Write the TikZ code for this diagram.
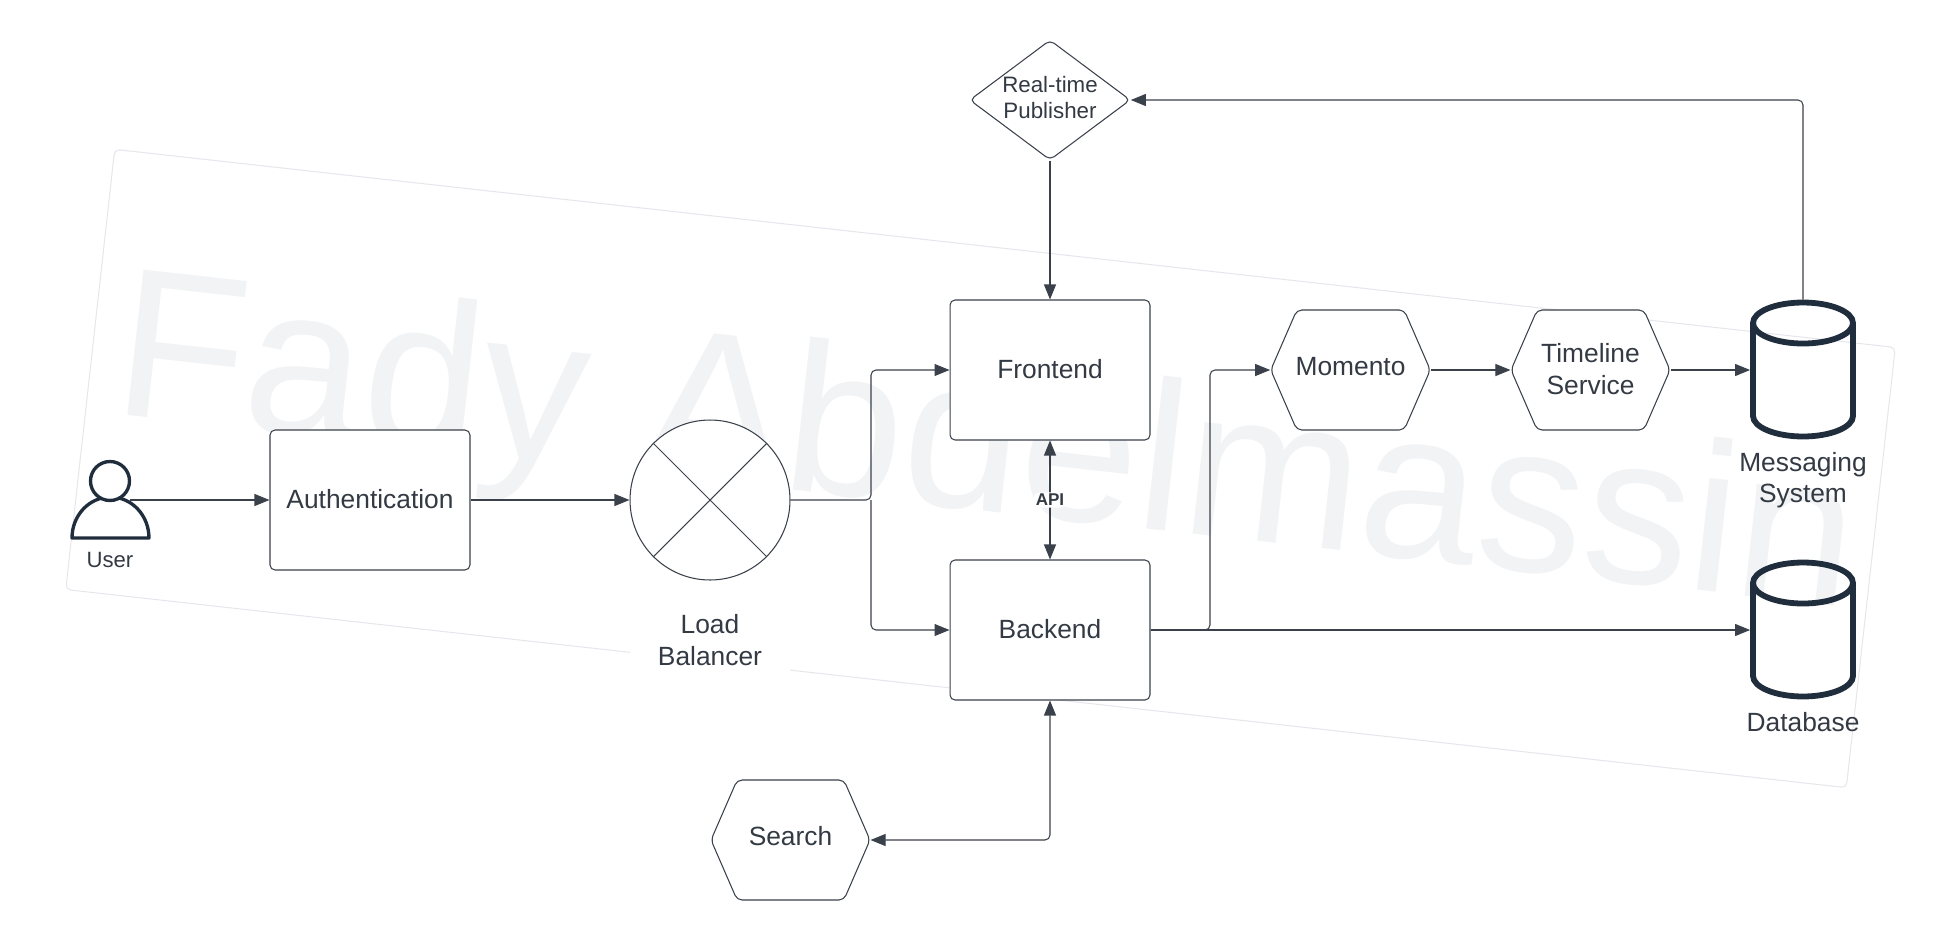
\documentclass[tikz,border=0pt]{standalone}
\usepackage{fontspec}
\setmainfont{Liberation Sans}
\usetikzlibrary{shapes.geometric,shapes.symbols,arrows.meta}

\definecolor{linecol}{HTML}{3A414A}
\definecolor{textcol}{HTML}{333A44}
\definecolor{darkcol}{HTML}{1F2D3D}
\definecolor{markcol}{HTML}{F2F3F5}
\definecolor{markline}{HTML}{E6E7EC}

\tikzset{
  conn/.style={draw=linecol,line width=0.6pt,rounded corners=0.1cm,-{Triangle[length=0.3cm,width=0.24cm]}},
  biconn/.style={conn,{Triangle[length=0.3cm,width=0.24cm]}-{Triangle[length=0.3cm,width=0.24cm]}},
  box/.style={draw=linecol,fill=white,line width=0.6pt,rounded corners=0.1cm,minimum width=4cm,minimum height=2.8cm,text=textcol,text depth=0.05cm,font=\fontsize{15}{18}\selectfont,align=center},
  hexa/.style={box,signal,signal to=east and west,signal pointer angle=133,minimum width=3.18cm,minimum height=2.4cm,inner ysep=0pt,inner xsep=-0.025cm,text depth=0.15cm},
  drum/.style={draw=darkcol,line width=3.3pt,cylinder,shape border rotate=90,shape aspect=3.5,minimum width=2cm,minimum height=2.68cm,anchor=shape center},
  caption/.style={text=textcol,font=\fontsize{15}{18}\selectfont,align=center},
}

\begin{document}
\begin{tikzpicture}[x=0.02cm,y=-0.02cm]
\useasboundingbox (0,0) rectangle (1938,940);

% watermark
\node[draw=markline,line width=0.6pt,rounded corners=0.1cm,rotate=-6.35,minimum width=35.84cm,minimum height=8.86cm] (frame) at (980.5,468.5) {};
\node[text=markcol,font=\fontsize{121}{121}\selectfont,anchor=base,rotate=-6.35,inner sep=0pt] (mark) at (979.5,510.5) {Fady Abdelmassin};

% user icon
\draw[darkcol,line width=1.9pt,line join=round] (72,538) arc[start angle=180,end angle=0,x radius=0.77cm,y radius=0.82cm] -- cycle;
\node[circle,draw=darkcol,fill=white,line width=1.9pt,minimum size=0.78cm,inner sep=0pt] (userhead) at (110,481) {};
\coordinate (useredge) at (130,500);
\node[caption,font=\fontsize{12.6}{15}\selectfont] (user) at (110,560) {User};

\node[box] (auth) at (370,500) {Authentication};
\node[circle,draw=linecol,fill=white,line width=0.6pt,minimum size=3.2cm,inner sep=0pt] (lb) at (710,500) {};
\draw[linecol,line width=0.6pt] (lb.45) -- (lb.225) (lb.135) -- (lb.315);
\node[caption,fill=white,minimum width=3.2cm,minimum height=1.6cm] (lblabel) at (710,640) {Load\\Balancer};
\coordinate (split) at (871,500);

\node[box] (frontend) at (1050,370) {Frontend};
\node[box] (backend) at (1050,630) {Backend};
\node[box,diamond,aspect=1.36,minimum width=3.2cm,minimum height=2.4cm,inner sep=0pt,text depth=0.115cm,font=\fontsize{12.7}{14.8}\selectfont] (publisher) at (1050,100) {Real-time\\Publisher};
\node[hexa] (momento) at (1350.5,370) {Momento};
\node[hexa,text depth=0.05cm] (timeline) at (1590.5,370) {Timeline\\Service};
\node[hexa] (search) at (790.5,840) {Search};
\coordinate (bend) at (1210,630);

\node[drum] (messaging) at (1803,369.5) {};
\node[drum] (database) at (1803,629.5) {};
\node[caption] (msglabel) at (1803,480) {Messaging\\System};
\node[caption] (dblabel) at (1803,722) {Database};

\draw[conn] (useredge) -- (auth.west);
\draw[conn] (auth.east) -- (lb.west);
\draw[conn] (lb.east) -- (split) |- (frontend.west);
\draw[conn] (split) |- (backend.west);
\draw[conn] (publisher.south) -- (frontend.north);
\draw[biconn] (frontend.south) -- (backend.north) node[midway,fill=white,inner sep=1pt,text=textcol,font=\fontsize{9.7}{12}\bfseries\selectfont] (api) {API};
\draw[conn] (backend.east) -- (bend) |- (momento.west);
\draw[conn] (backend.east) -- (database.west |- backend.east);
\draw[conn] (momento.east) -- (timeline.west);
\draw[conn] (timeline.east) -- (messaging.west |- timeline.east);
\draw[conn] (messaging.north) |- (publisher.east);
\draw[biconn] (backend.south) |- (search.east);

\end{tikzpicture}
\end{document}
